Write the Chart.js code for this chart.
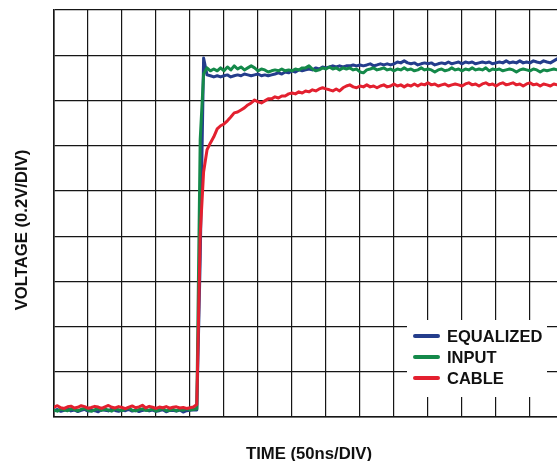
<!DOCTYPE html>
<html>
<head>
<meta charset="utf-8">
<script src="https://cdn.jsdelivr.net/npm/chart.js@4.4.0/dist/chart.umd.min.js"></script>
<style>
  html, body { margin: 0; padding: 0; background: #fff; overflow: hidden; }
  #wrap { width: 557px; height: 461px; overflow: hidden; }
</style>
</head>
<body>
<div id="wrap"><canvas id="scope" width="570" height="461"></canvas></div>
<script>
// scope capture, one sample every 5ns, values in mV
const SAMPLE_NS = 5;
const X_DIV_NS = 50;
const X_DIVS = 15;
const Y_DIV_MV = 200;
const Y_DIVS = 9;

const seriesNames = ["EQUALIZED", "INPUT", "CABLE"];
const seriesColors = ["#243d8c", "#14894a", "#e3202f"];

const equalized = [
  28, 33, 25, 30, 36, 27, 31, 24, 29, 34,
  26, 31, 28, 23, 33, 30, 27, 35, 29, 25,
  31, 28, 34, 26, 30, 24, 29, 33, 27, 31,
  25, 28, 32, 23, 29, 30, 26, 31, 22, 28,
  30, 32, 31, 700, 1588, 1513, 1509, 1504, 1509, 1504,
  1509, 1513, 1504, 1509, 1513, 1509, 1517, 1513, 1509, 1513,
  1517, 1509, 1513, 1509, 1513, 1517, 1522, 1517, 1526, 1522,
  1531, 1526, 1535, 1531, 1535, 1539, 1535, 1544, 1539, 1548,
  1544, 1548, 1553, 1548, 1553, 1548, 1553, 1553, 1557, 1553,
  1557, 1553, 1557, 1562, 1553, 1557, 1562, 1557, 1562, 1557,
  1562, 1570, 1566, 1575, 1566, 1562, 1566, 1557, 1562, 1566,
  1562, 1566, 1557, 1562, 1566, 1562, 1570, 1562, 1566, 1570,
  1562, 1570, 1566, 1570, 1562, 1566, 1570, 1566, 1570, 1562,
  1566, 1570, 1566, 1575, 1566, 1570, 1566, 1575, 1566, 1570,
  1566, 1575, 1570, 1566, 1575, 1570, 1566, 1575, 1584, 1579,
  1579
];

const input = [
  30, 26, 35, 31, 28, 36, 33, 27, 34, 38,
  30, 25, 32, 37, 29, 34, 31, 26, 36, 32,
  28, 35, 40, 30, 27, 33, 36, 29, 31, 35,
  26, 32, 38, 28, 30, 34, 27, 33, 30, 36,
  31, 33, 36, 1227, 1517, 1544, 1531, 1539, 1531, 1544,
  1531, 1548, 1535, 1553, 1539, 1548, 1535, 1544, 1553, 1544,
  1531, 1539, 1535, 1526, 1531, 1535, 1531, 1539, 1531, 1535,
  1531, 1539, 1535, 1544, 1544, 1553, 1539, 1531, 1535, 1544,
  1539, 1548, 1539, 1544, 1535, 1544, 1539, 1544, 1535, 1539,
  1526, 1522, 1535, 1539, 1544, 1535, 1539, 1544, 1535, 1539,
  1531, 1539, 1535, 1544, 1535, 1539, 1531, 1535, 1544, 1535,
  1539, 1535, 1526, 1535, 1539, 1531, 1535, 1544, 1535, 1539,
  1531, 1539, 1535, 1544, 1535, 1539, 1535, 1544, 1531, 1539,
  1535, 1539, 1531, 1535, 1539, 1535, 1526, 1535, 1539, 1535,
  1531, 1539, 1535, 1526, 1535, 1531, 1535, 1539, 1535, 1535,
  1539
];

const cable = [
  44, 50, 41, 38, 45, 48, 40, 43, 50, 46,
  39, 42, 47, 44, 38, 45, 51, 43, 40, 46,
  42, 37, 44, 49, 41, 45, 52, 40, 47, 43,
  38, 44, 41, 46, 39, 43, 45, 40, 42, 38,
  41, 44, 55, 806, 1084, 1181, 1212, 1239, 1274, 1288,
  1296, 1310, 1327, 1345, 1349, 1358, 1367, 1380, 1389, 1402,
  1394, 1389, 1398, 1407, 1407, 1416, 1411, 1420, 1420, 1429,
  1433, 1429, 1438, 1433, 1442, 1438, 1447, 1442, 1451, 1456,
  1451, 1447, 1442, 1451, 1442, 1456, 1464, 1469, 1460, 1456,
  1464, 1460, 1469, 1460, 1464, 1456, 1464, 1469, 1460, 1464,
  1473, 1464, 1469, 1460, 1469, 1464, 1473, 1464, 1473, 1469,
  1478, 1469, 1473, 1464, 1469, 1473, 1464, 1469, 1473, 1469,
  1464, 1473, 1478, 1469, 1473, 1464, 1473, 1478, 1469, 1473,
  1464, 1473, 1478, 1469, 1473, 1478, 1469, 1473, 1464, 1473,
  1478, 1469, 1473, 1464, 1473, 1469, 1464, 1473, 1469, 1473,
  1469
];

const xTitle = "TIME (50ns/DIV)";
const yTitle = "VOLTAGE (0.2V/DIV)";
const FONT = '"Liberation Sans", Arial, sans-serif';

function toPoints(values) {
  return values.map((v, i) => ({ x: i * SAMPLE_NS, y: v }));
}

// legend box sits on top of the grid, axis titles drawn by hand
const scopeDecor = {
  id: "scopeDecor",
  afterDatasetsDraw(chart) {
    const { ctx, chartArea: a } = chart;
    ctx.save();

    const bx = a.left + 353, by = a.top + 310;
    ctx.fillStyle = "#fff";
    ctx.fillRect(bx, by, 140, 77);
    ctx.font = "bold 16.5px " + FONT;
    ctx.textAlign = "left";
    ctx.textBaseline = "alphabetic";
    seriesNames.forEach((name, i) => {
      const y = by + 16 + i * 21;
      ctx.strokeStyle = seriesColors[i];
      ctx.lineWidth = 4;
      ctx.lineCap = "round";
      ctx.beginPath();
      ctx.moveTo(bx + 8, y);
      ctx.lineTo(bx + 31, y);
      ctx.stroke();
      ctx.fillStyle = "#111";
      ctx.fillText(name, bx + 40, y + 6);
    });

    ctx.fillStyle = "#111";
    ctx.font = "bold 16.7px " + FONT;
    ctx.textAlign = "center";
    ctx.fillText(xTitle, (a.left + a.right) / 2, a.bottom + 42);

    ctx.translate(27, 230);
    ctx.rotate(-Math.PI / 2);
    ctx.fillText(yTitle, 0, 0);
    ctx.restore();
  }
};

new Chart(document.getElementById("scope"), {
  type: "line",
  data: {
    datasets: [equalized, input, cable].map((vals, i) => ({
      label: seriesNames[i],
      data: toPoints(vals),
      borderColor: seriesColors[i],
      borderWidth: 3,
      borderJoinStyle: "round",
      borderCapStyle: "round",
      pointRadius: 0,
      tension: 0,
      order: 2 - i
    }))
  },
  options: {
    responsive: false,
    animation: false,
    layout: { padding: { left: 54, top: 10, right: 6, bottom: 44 } },
    plugins: { legend: { display: false }, tooltip: { enabled: false } },
    scales: {
      x: {
        type: "linear",
        min: 0,
        max: X_DIVS * X_DIV_NS,
        ticks: { display: false, stepSize: X_DIV_NS },
        grid: { color: "#161616", lineWidth: 1.2, drawTicks: false },
        border: { color: "#161616", width: 1.6 }
      },
      y: {
        min: 0,
        max: Y_DIVS * Y_DIV_MV,
        ticks: { display: false, stepSize: Y_DIV_MV },
        grid: { color: "#161616", lineWidth: 1.2, drawTicks: false },
        border: { color: "#161616", width: 1.6 }
      }
    }
  },
  plugins: [scopeDecor]
});
</script>
</body>
</html>
